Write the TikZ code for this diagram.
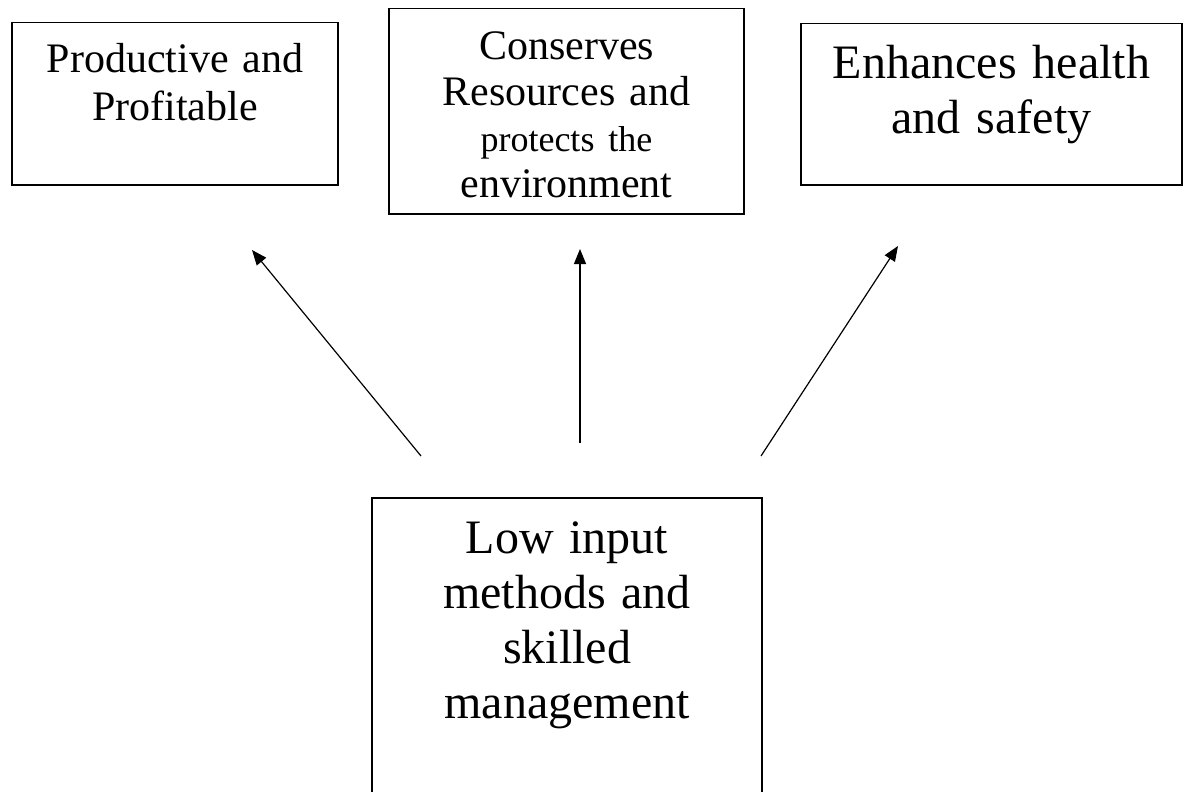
\documentclass[tikz,border=0pt]{standalone}
\usepackage{fontspec}
\setmainfont{Liberation Serif}
\usetikzlibrary{arrows.meta}

\tikzset{
    goalbox/.style={draw, line width=1.5pt, inner sep=0pt, align=center, anchor=north},
    pointer/.style={line width=1.2pt, -{Triangle[length=15pt,width=12pt]}}
}

\begin{document}
\begin{tikzpicture}[x=1pt,y=-1pt]
        \useasboundingbox (0,0) rectangle (1187,792);

        % three outcomes on top
        \node[goalbox, text width=326pt, text height=50pt, text depth=112pt,
              font=\fontsize{42}{48}\selectfont] (prod) at (175,22) {Productive and\\Profitable};
        \node[goalbox, text width=355pt, text height=51pt, text depth=154pt,
              font=\fontsize{42}{46}\selectfont] (cons) at (566.5,8)
              {Conserves\\Resources and\\{\fontsize{36}{46}\selectfont protects the}\\environment};
        \node[goalbox, text width=381pt, text height=55pt, text depth=106pt,
              font=\fontsize{48}{55}\selectfont] (safe) at (991.5,23) {Enhances health\\and safety};

        % the means below
        \node[goalbox, text width=390pt, text height=56pt, text depth=330pt,
              font=\fontsize{48}{55}\selectfont] (low) at (567,497)
              {Low input\\methods and\\skilled\\management};

        % free arrow ends
        \coordinate (a1) at (421,456); \coordinate (b1) at (252,250);
        \coordinate (a2) at (580,443); \coordinate (b2) at (580,249);
        \coordinate (a3) at (761,456); \coordinate (b3) at (898,246);

        \draw[pointer] (a1) -- (b1);
        \draw[pointer] (a2) -- (b2);
        \draw[pointer] (a3) -- (b3);
    \end{tikzpicture}
\end{document}
